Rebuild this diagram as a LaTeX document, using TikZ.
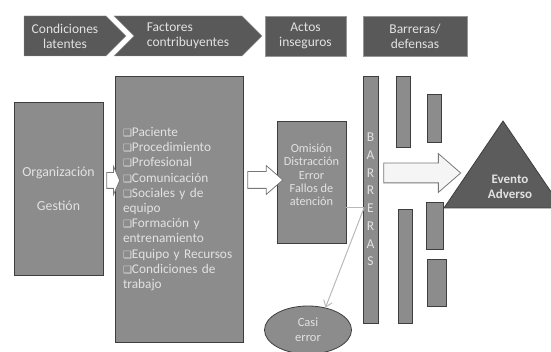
\documentclass[tikz,border=0pt]{standalone}
\usepackage{fontspec}
\setmainfont{Carlito}
\newfontfamily\symfont{DejaVu Sans}
\usetikzlibrary{arrows.meta,positioning,calc,shapes.geometric,shapes.symbols,shapes.arrows}
\definecolor{hdrgray}{RGB}{89,89,89}
\definecolor{hdredge}{RGB}{150,150,150}
\definecolor{boxgray}{RGB}{140,140,140}
\definecolor{edgegray}{RGB}{62,62,62}
\definecolor{txtgray}{RGB}{226,226,226}
\definecolor{linegray}{RGB}{185,185,185}
\definecolor{arrowgray}{RGB}{120,120,120}
\definecolor{trigray}{RGB}{92,92,92}
\newcommand{\chk}{{\symfont\fontsize{10}{10}\selectfont\char"2751}}
\tikzset{
  hdrbase/.style={
    draw=hdredge,fill=hdrgray,text=txtgray,minimum height=40pt,
    inner sep=2pt,font=\fontsize{13.5}{15}\selectfont
  },
  hdrbox/.style={hdrbase,rectangle,align=center},
  hdrchev/.style={hdrbase,signal,signal to=east,signal pointer angle=90},
  grbox/.style={draw=edgegray,fill=boxgray,text=txtgray,line width=0.8pt,inner sep=0pt},
  barrect/.style n args={2}{grbox,minimum width=#1pt,minimum height=#2pt},
  blockarrow/.style={single arrow,draw=arrowgray,fill=white,line width=0.8pt,inner xsep=0pt},
  thinline/.style={draw=linegray,line width=1pt}
}

\begin{document}
\begin{tikzpicture}[x=1pt,y=-1pt]
  \useasboundingbox (0,0) rectangle (551,352);
  \clip (0,0) rectangle (551,352);
  % header row
  \node[hdrchev,minimum width=102pt,align=center] (condH) at (65,36) {Condiciones\\latentes};
  \node[hdrchev,signal from=west,minimum width=148pt,align=left] (factH) at (188,36) {Factores\\contribuyentes};
  \node[hdrbox,minimum width=81pt] (actosH) at (305.5,36) {Actos\\inseguros};
  \node[hdrbox,minimum width=104pt] (barrH) at (415,36) {Barreras/\\defensas};
  % main boxes
  \node[grbox,minimum width=89pt,minimum height=173pt,align=center,
    font=\fontsize{13.8}{16}\selectfont] (org) at (58.5,188.5) {Organización\\[18pt]Gestión};
  \node[grbox,minimum width=128pt,minimum height=266pt,text width=112pt,align=left,
    font=\fontsize{13.3}{15.2}\selectfont] (fact) at (179,209)
    {\chk Paciente\\\chk Procedimiento\\\chk Profesional\\\chk Comunicación\\
     \chk Sociales y de\\equipo\\\chk Formación y\\entrenamiento\\
     \chk Equipo y Recursos\\\chk Condiciones de\\trabajo};
  \node[grbox,minimum width=69pt,minimum height=122pt] (actos) at (311.5,182) {};
  \node[text=txtgray,align=center,font=\fontsize{12.3}{13.3}\selectfont] (actostxt) at (311.5,175)
    {Omisión\\Distracción\\Error\\Fallos de\\atención};
  % barriers
  \node[barrect={15}{247},align=center,font=\fontsize{13.5}{17.7}\selectfont] (bar) at (370.5,199.5)
    {B\\A\\R\\R\\E\\R\\A\\S};
  \node[barrect={14}{71}] (b2a) at (403,111.5) {};
  \node[barrect={14}{48}] (b3a) at (434,118) {};
  \node[barrect={14}{114}] (b2b) at (405,266) {};
  \node[barrect={17}{47}] (b3b) at (434.5,225.5) {};
  \node[barrect={19}{47}] (b3c) at (436.5,282.5) {};
  % block arrows
  \node[blockarrow,minimum height=13pt,minimum width=27pt,inner ysep=7.5pt,
    single arrow head extend=6pt,single arrow tip angle=132] (arr1) at (111.5,180.5) {};
  \node[blockarrow,minimum height=35pt,minimum width=28pt,inner ysep=8pt,
    single arrow head extend=6pt,single arrow tip angle=82] (arr2) at (260.5,180) {};
  \node[blockarrow,fill=black!4,minimum height=77pt,minimum width=38pt,inner ysep=9.5pt,
    single arrow head extend=9.5pt,single arrow tip angle=82] (arr3) at (416.5,173) {};
  % adverse event
  \draw[draw=edgegray,fill=trigray,line width=0.8pt] (503,121) -- (562,208) -- (444,208) -- cycle;
  \node[text=txtgray,align=center,font=\bfseries\fontsize{13}{15}\selectfont] (evento) at (510,187)
    {Evento\\Adverso};
  % near miss
  \node[grbox,ellipse,minimum width=87pt,minimum height=48pt,align=center,
    font=\fontsize{12.5}{15}\selectfont] (casi) at (308,330) {Casi\\error};
  \coordinate (hitpt) at (364,208);
  \draw[thinline] (actos.east |- hitpt) -- (hitpt);
  \draw[thinline,-{Straight Barb[length=6pt,width=9pt]}] (hitpt) -- (casi.52);
\end{tikzpicture}
\end{document}
